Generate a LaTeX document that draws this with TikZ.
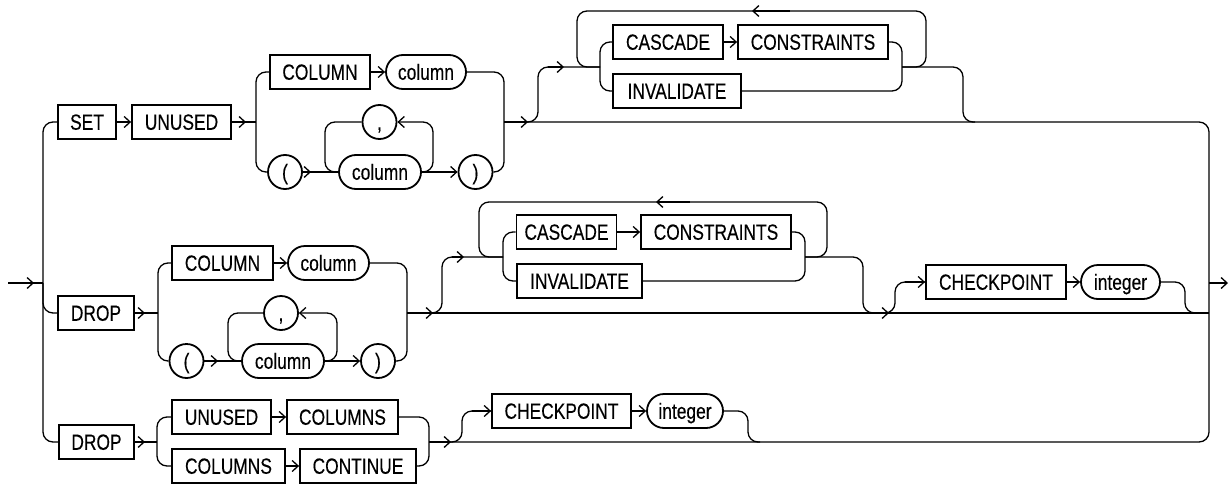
\documentclass[tikz,border=0pt]{standalone}
\usepackage{fontspec}
\setmainfont{Liberation Sans}[FakeStretch=0.79,FakeBold=0.3]
\usetikzlibrary{arrows.meta,shapes.misc}
\begin{document}
\begin{tikzpicture}[x=1pt,y=-1pt,
  kw/.style={draw, line width=1.8pt, rectangle, minimum height=34pt, inner sep=0pt, text height=15.5pt, text depth=0pt, font=\fontsize{22}{24}\selectfont},
  nt/.style={kw, rounded rectangle},
  ln/.style={line width=1.3pt, rounded corners=10pt},
  arr/.style={ln, -{Straight Barb[length=6pt,width=11pt]}}]
\useasboundingbox (0,0) rectangle (1230,487);
% ---------- row 1
\node[kw, minimum width=58] (set) at (87,122) {SET};
\node[kw, minimum width=99] (unused1) at (181.5,122) {UNUSED};
\node[kw, minimum width=100] (colkw1) at (320,72) {COLUMN};
\node[nt, minimum width=80] (col1) at (426,72) {column};
\node[nt, minimum width=33] (lp1) at (285,172) {(};
\node[nt, minimum width=31] (comma1) at (379.5,122) {,};
\node[nt, minimum width=82] (colv1) at (380,172) {column};
\node[nt, minimum width=33] (rp1) at (475.5,172) {)};
\node[kw, minimum width=110] (cascade1) at (668,42) {CASCADE};
\node[kw, minimum width=150] (constraints1) at (813,42) {CONSTRAINTS};
\node[kw, minimum width=128] (invalidate1) at (677,91) {INVALIDATE};
% ---------- row 2
\node[kw, minimum width=76] (drop2) at (96,313) {DROP};
\node[kw, minimum width=101] (colkw2) at (222.5,263) {COLUMN};
\node[nt, minimum width=81] (col2) at (328.5,263) {column};
\node[nt, minimum width=31] (comma2) at (281,313) {,};
\node[nt, minimum width=31] (lp2) at (186.5,361) {(};
\node[nt, minimum width=82] (colv2) at (283,361) {column};
\node[nt, minimum width=31] (rp2) at (378,361) {)};
\node[kw, minimum width=100] (cascade2) at (566.5,232) {CASCADE};
\node[kw, minimum width=150] (constraints2) at (716,232) {CONSTRAINTS};
\node[kw, minimum width=125] (invalidate2) at (579.5,281) {INVALIDATE};
\node[kw, minimum width=140] (checkpoint2) at (996,282) {CHECKPOINT};
\node[nt, minimum width=79] (integer2) at (1120.5,282) {integer};
% ---------- row 3
\node[kw, minimum width=75] (drop3) at (96.5,442) {DROP};
\node[kw, minimum width=99] (unused3) at (221.5,417) {UNUSED};
\node[kw, minimum width=111] (columns3a) at (342.5,417) {COLUMNS};
\node[kw, minimum width=113] (columns3b) at (228.5,466) {COLUMNS};
\node[kw, minimum width=116] (continue3) at (358,466) {CONTINUE};
\node[kw, minimum width=139] (checkpoint3) at (561.5,411) {CHECKPOINT};
\node[nt, minimum width=76] (integer3) at (685,411) {integer};
% ---------- entry / exit
\coordinate (in) at (8,283);
\coordinate (lv) at (43,283);
\coordinate (rv) at (1209,283);
\coordinate (out) at (1228,283);
\draw[ln] (in) -- (lv);
\draw[arr] (in) -- (34,283);
\draw[arr] (rv) -- (out);
\draw[ln] (set.west) -| (43,442) -- (drop3.west);
% ---------- row 1 lines
\draw[arr] (set.east) -- (unused1.west);
\draw[ln] (unused1.east) -- (256,122);
\draw[arr] (unused1.east) -- (246,122);
\draw[ln] (colkw1.west) -| (256,172) -- (lp1.west);
\draw[arr] (colkw1.east) -- (col1.west);
\draw[ln] (lp1.east) -- (colv1.west);
\draw[arr] (lp1.east) -- (311,172);
\draw[ln] (comma1.west) -| (325,172) -- (colv1.west);
\draw[arr] (colv1.east) -| (433,122) -- (comma1.east);
\draw[arr] (colv1.east) -- (rp1.west);
\draw[ln] (col1.east) -| (504,172) -- (rp1.east);
\draw[arr] (504,122) -- (528,122);
\draw[ln] (504,122) -| (1209,442) -- (429,442);
\draw[ln] (520,122) -| (538,67) -- (600,67);
\draw[arr] (548,67) -- (564,67);
\draw[ln] (cascade1.west) -| (600,91) -- (invalidate1.west);
\draw[arr] (cascade1.east) -- (constraints1.west);
\draw[ln] (constraints1.east) -| (902,91) -- (invalidate1.east);
\draw[ln] (902,67) -| (926,11) -- (577,11) |- (600,67);
\draw[arr] (790,11) -- (752,11);
\draw[ln] (902,67) -| (963,122) -- (975,122);
% ---------- row 2 lines
\draw[ln] (lv) |- (drop2.west);
\draw[ln] (drop2.east) -- (158,313);
\draw[arr] (drop2.east) -- (145,313);
\draw[ln] (colkw2.west) -| (158,361) -- (lp2.west);
\draw[arr] (colkw2.east) -- (col2.west);
\draw[ln] (lp2.east) -- (colv2.west);
\draw[arr] (lp2.east) -- (218,361);
\draw[ln] (comma2.west) -| (228,361) -- (colv2.west);
\draw[arr] (colv2.east) -| (337,313) -- (comma2.east);
\draw[arr] (colv2.east) -- (rp2.west);
\draw[ln] (col2.east) -| (407,361) -- (rp2.east);
\draw[ln] (407,313) -- (1209,313);
\draw[arr] (407,313) -- (433,313);
\draw[ln] (425,313) -| (442,257) -- (503,257);
\draw[arr] (452,257) -- (464,257);
\draw[ln] (cascade2.west) -| (503,281) -- (invalidate2.west);
\draw[arr] (cascade2.east) -- (constraints2.west);
\draw[ln] (constraints2.east) -| (805,281) -- (invalidate2.east);
\draw[ln] (805,257) -| (827,202) -- (479,202) |- (503,257);
\draw[arr] (690,202) -- (656,202);
\draw[ln] (805,257) -| (863,313) -- (875,313);
\draw[arr] (870,313) -- (889,313);
\draw[ln] (880,313) -| (895,282) -- (checkpoint2.west);
\draw[arr] (905,282) -- (checkpoint2.west);
\draw[arr] (checkpoint2.east) -- (integer2.west);
\draw[ln] (integer2.east) -| (1185,313) -- (1197,313);
% ---------- row 3 lines
\draw[ln] (drop3.east) -- (157,442);
\draw[arr] (drop3.east) -- (145,442);
\draw[ln] (unused3.west) -| (157,466) -- (columns3b.west);
\draw[arr] (unused3.east) -- (columns3a.west);
\draw[arr] (columns3b.east) -- (continue3.west);
\draw[ln] (columns3a.east) -| (429,466) -- (continue3.east);
\draw[arr] (429,442) -- (451,442);
\draw[ln] (440,442) -| (462,411) -- (checkpoint3.west);
\draw[arr] (472,411) -- (checkpoint3.west);
\draw[arr] (checkpoint3.east) -- (integer3.west);
\draw[ln] (integer3.east) -| (748,442) -- (760,442);
\end{tikzpicture}
\end{document}
